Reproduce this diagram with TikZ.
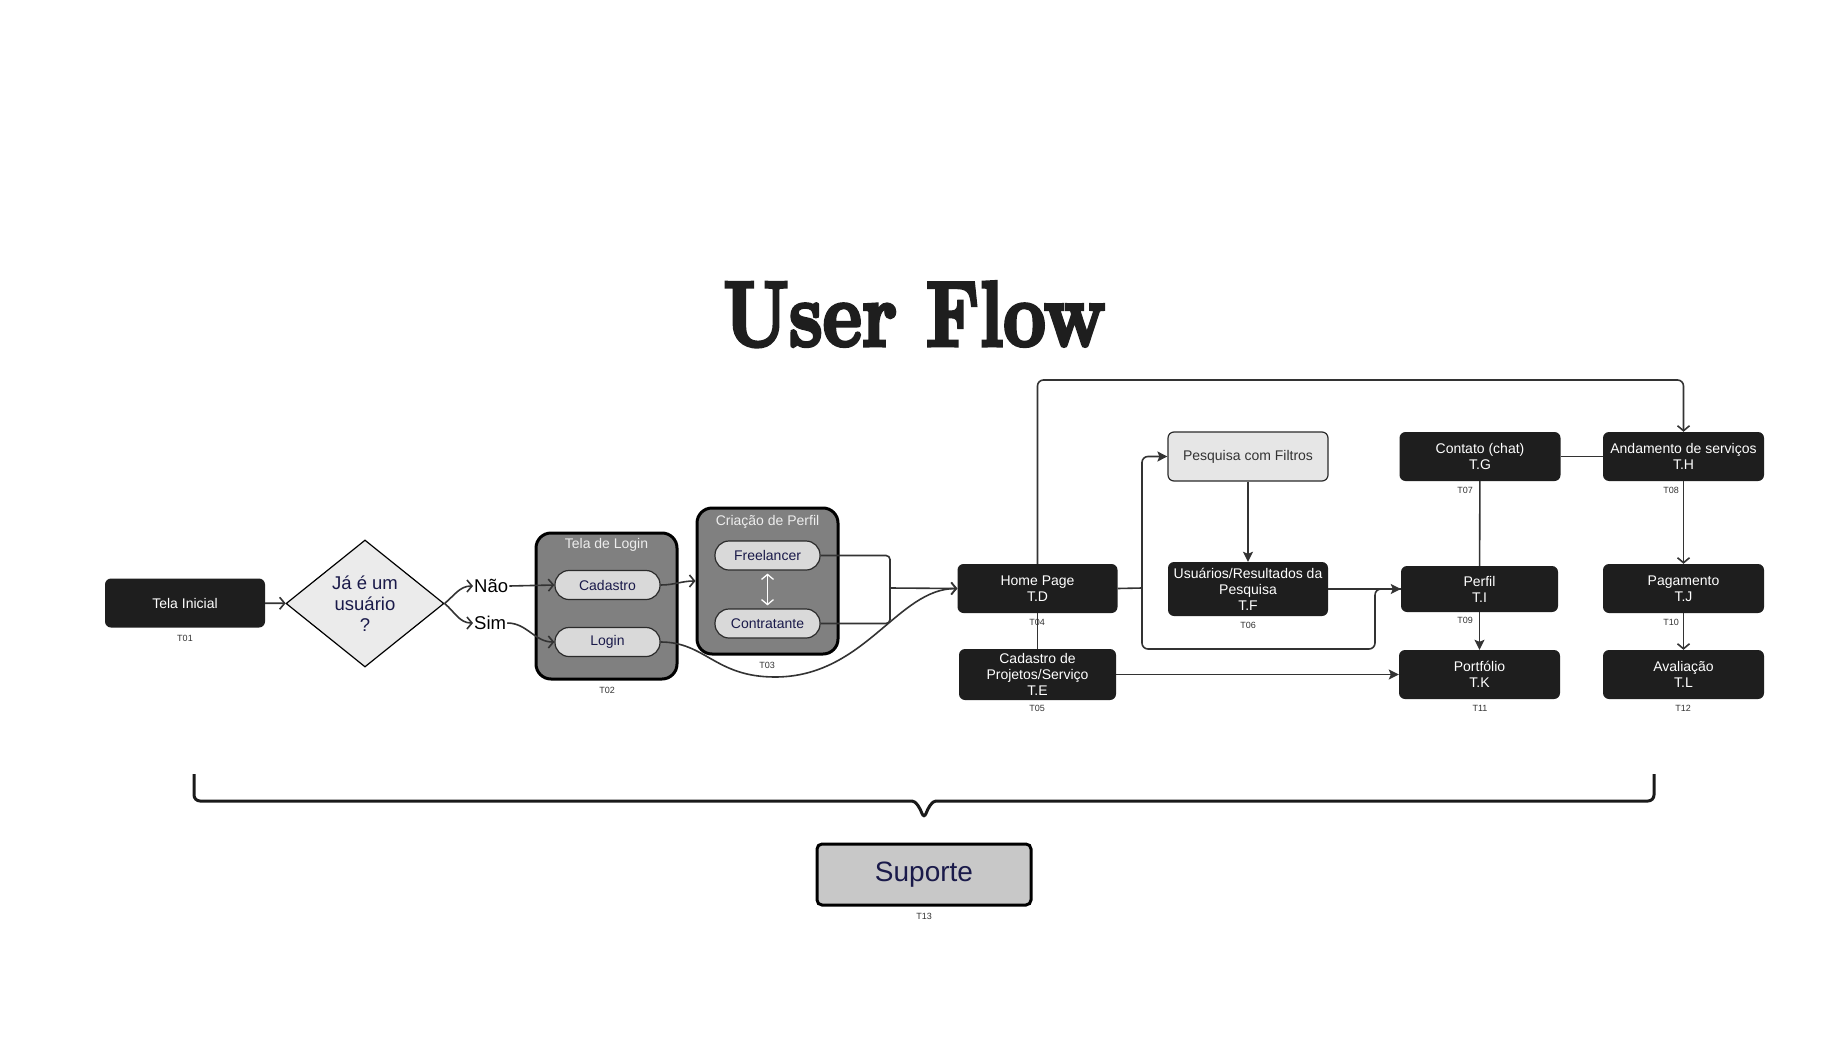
\documentclass[tikz,border=0pt]{standalone}
\usepackage{fontspec}
\setmainfont{Liberation Sans}
\newfontfamily\titlefont[FakeBold=4]{lmroman10-bold.otf}
\usetikzlibrary{shapes.geometric,arrows.meta}

\definecolor{boxblack}{HTML}{1E1E1E}
\definecolor{groupgray}{HTML}{808080}
\definecolor{pillgray}{HTML}{D9D9D9}
\definecolor{pillline}{HTML}{2B2B2B}
\definecolor{diagray}{HTML}{EBEBEB}
\definecolor{pesqgray}{HTML}{E6E6E6}
\definecolor{supgray}{HTML}{C8C8C8}
\definecolor{navy}{HTML}{1A1A4A}
\definecolor{linegray}{HTML}{333333}
\definecolor{taggray}{HTML}{333333}
\definecolor{bracegray}{HTML}{1A1A1A}

\begin{document}
\begin{tikzpicture}[x=1pt,y=-1pt,
  screen/.style={rectangle,rounded corners=6pt,fill=boxblack,text=white,minimum width=160pt,minimum height=49pt,inner sep=0pt,align=center,font=\fontsize{14}{16}\selectfont},
  pill/.style={rectangle,rounded corners=14pt,draw=pillline,line width=1.2pt,fill=pillgray,text=navy,minimum width=105pt,minimum height=29pt,inner sep=0pt,font=\fontsize{14}{16}\selectfont},
  group/.style={rectangle,rounded corners=15pt,draw=black,line width=3pt,fill=groupgray,minimum width=141pt,minimum height=146pt},
  tag/.style={font=\fontsize{9}{10}\selectfont,text=taggray,inner sep=0pt},
  open/.style={-{Straight Barb[length=5pt,width=12pt]}},
  filltip/.style={-{Stealth[length=10pt,width=10pt,inset=2pt]}}]
\tikzstyle{flow} = [draw=linegray,line width=1.6pt]

\fill[white] (0,0) rectangle (1848,1060);

% title
\node[anchor=south west,inner sep=0pt,text=boxblack] (title) at (723,347) {\resizebox{382pt}{64pt}{\titlefont User Flow}};

% start and question
\node[screen] (inicial) at (185,603) {Tela Inicial};
\node[tag] (t01) at (185,638) {T01};

\node[diamond,draw=black,line width=1.2pt,fill=diagray,minimum width=158pt,minimum height=127pt,inner sep=0pt,shape aspect=1.24,align=center,text=navy,font=\fontsize{18.5}{21}\selectfont] (usuario) at (365,603.5) {Já é um\\usuário\\?};

\node[anchor=west,inner sep=1pt,font=\fontsize{18.5}{20}\selectfont] (nao) at (473,586) {Não};
\node[anchor=west,inner sep=1pt,font=\fontsize{18.5}{20}\selectfont] (sim) at (473,623) {Sim};

% login group
\node[group] (loginbox) at (606.5,606) {};
\node[text=white!93!black,font=\fontsize{14}{16}\selectfont] (logintitle) at (606.5,545) {Tela de Login};
\node[pill] (cadastro) at (607.5,585) {Cadastro};
\node[pill] (login) at (607.5,642) {Login};
\node[tag] (t02) at (607,690) {T02};

% perfil group
\node[group] (perfilbox) at (767.5,581) {};
\node[text=white!93!black,font=\fontsize{14}{16}\selectfont] (perfiltitle) at (767.5,522) {Criação de Perfil};
\node[pill] (freelancer) at (767.5,555.5) {Freelancer};
\node[pill] (contratante) at (767.5,623.5) {Contratante};
\node[tag] (t03) at (767,665) {T03};

% screens
\node[screen] (home) at (1037.5,588.5) {Home Page\\T.D};
\node[tag] (t04) at (1037,622) {T04};
\node[screen,minimum width=157pt,minimum height=51pt] (cadproj) at (1037.5,674.5) {Cadastro de\\Projetos/Serviço\\T.E};
\node[tag] (t05) at (1037,708) {T05};

\node[screen,fill=pesqgray,draw=pillline,line width=1.2pt,text=linegray] (pesquisa) at (1248,456.5) {Pesquisa com Filtros};
\node[screen,minimum height=54pt] (resultados) at (1248,589) {Usuários/Resultados da\\Pesquisa\\T.F};
\node[tag] (t06) at (1248,625) {T06};

\node[screen,minimum width=161pt] (contato) at (1480,456.5) {Contato (chat)\\T.G};
\node[tag] (t07) at (1465,490) {T07};
\node[screen,minimum width=161pt] (andamento) at (1683.5,456.5) {Andamento de serviços\\T.H};
\node[tag] (t08) at (1671,490) {T08};

\node[screen,minimum width=157pt,minimum height=46pt] (perfil) at (1479.5,589) {Perfil\\T.I};
\node[tag] (t09) at (1465,620) {T09};
\node[screen,minimum width=161pt] (pagamento) at (1683.5,588.5) {Pagamento\\T.J};
\node[tag] (t10) at (1671,622) {T10};

\node[screen,minimum width=161pt] (portfolio) at (1479.5,674.5) {Portfólio\\T.K};
\node[tag] (t11) at (1480,708) {T11};
\node[screen,minimum width=161pt] (avaliacao) at (1683.5,674.5) {Avaliação\\T.L};
\node[tag] (t12) at (1683,708) {T12};

% support
\node[rectangle,rounded corners=5pt,draw=black,line width=3pt,fill=supgray,minimum width=214pt,minimum height=61pt,text=navy,font=\fontsize{28}{30}\selectfont] (suporte) at (924,874.5) {Suporte};
\node[tag] (t13) at (924,916) {T13};

% helper points
\coordinate (juncao) at (890,588);
\coordinate (dip) at (775,677);
\coordinate (toprail) at (1360,380);
\coordinate (split) at (1142,588);
\coordinate (lowrail) at (1375,649);

% connectors
\draw[flow,open] (inicial) -- (usuario);
\draw[flow,open] (usuario.east) to[out=40,in=180] (nao.west);
\draw[flow,open] (usuario.east) to[out=-40,in=180] (sim.west);
\draw[flow,open] (nao.east) -- (cadastro.west);
\draw[flow,open] (sim.east) to[out=0,in=180] (login.west);
\draw[flow,open] (cadastro.east) to[out=0,in=180] (perfilbox.west);
\draw[white,line width=1.3pt,{Straight Barb[length=5pt,width=12pt]}-{Straight Barb[length=5pt,width=12pt]},shorten <=3pt,shorten >=3pt] (freelancer.south) -- (contratante.north);

\draw[flow,rounded corners=4pt] (freelancer.east) -| (juncao);
\draw[flow,rounded corners=4pt] (contratante.east) -| (juncao);
\draw[flow,open] (juncao) -- (home.west);
\draw[flow,open] (login.east) .. controls +(45,0) and +(-60,0) .. (dip) .. controls +(90,0) and +(-60,0) .. (home.west);

\draw[flow,open,rounded corners=6pt] (home.north) |- (toprail) -| (andamento.north);
\draw[flow] (home.south) -- (cadproj.north);
\draw[flow] (home.east) -- (split);
\draw[flow,filltip,rounded corners=6pt] (split) |- (pesquisa.west);
\draw[flow,rounded corners=6pt] (split) |- (lowrail) |- (perfil.west);
\draw[flow,filltip] (pesquisa) -- (resultados);
\draw[flow,filltip] (resultados.east) -- (perfil.west);
\draw[flow,filltip] (cadproj.east) -- (portfolio.west);

\draw[flow] (contato) -- (andamento);
\draw[flow] (contato) -- (perfil);
\draw[flow,filltip] (perfil) -- (portfolio);
\draw[flow,open] (andamento) -- (pagamento);
\draw[flow,open] (pagamento) -- (avaliacao);

% brace
\draw[line width=3pt,draw=bracegray,rounded corners=6pt] (194,774) -- (194,801) -- (906,801) .. controls (916,801) and (920,808) .. (924,819) .. controls (928,808) and (932,801) .. (942,801) -- (1654,801) -- (1654,774);

\end{tikzpicture}
\end{document}
